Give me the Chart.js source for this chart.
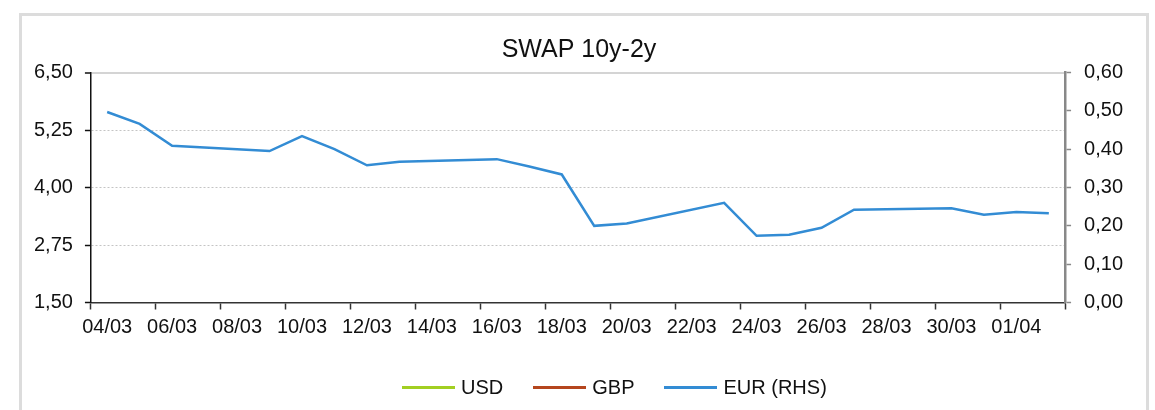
<!DOCTYPE html>
<html>
<head>
<meta charset="utf-8">
<script src="https://cdn.jsdelivr.net/npm/chart.js@4/dist/chart.umd.min.js"></script>
<style>
	body { margin: 0; background: #fff; font-family: 'Liberation Sans', Arial, sans-serif; }
	#wrap { position: relative; width: 1155px; height: 410px; overflow: hidden; }
	#frame { position: absolute; left: 19px; top: 13px; width: 1124px; height: 430px; border: 3px solid #dcdcdc; }
	#chart { position: absolute; left: 0; top: 0; }
	#legend { position: absolute; left: 402px; top: 376px; display: flex; align-items: center; font-size: 20px; color: #111; }
	.item { display: flex; align-items: center; margin-right: 30px; }
	.swatch { width: 53px; height: 3px; margin-right: 6px; }
</style>
</head>
<body>
<div id="wrap">
	<div id="frame"></div>
	<canvas id="chart" width="1155" height="410"></canvas>
	<div id="legend"></div>
</div>
<script>
var days = ['04/03','05/03','06/03','07/03','08/03','09/03','10/03','11/03','12/03','13/03',
	'14/03','15/03','16/03','17/03','18/03','19/03','20/03','21/03','22/03','23/03',
	'24/03','25/03','26/03','27/03','28/03','29/03','30/03','31/03','01/04','02/04'];
// USD and GBP sit below the left axis range, nothing of them shows
var usd = [];
var gbp = [];
var eur = [0.497, 0.466, 0.409, null, null, 0.395, 0.434, 0.400, 0.358, 0.367,
	null, null, 0.374, 0.355, 0.334, 0.200, 0.206, null, null, 0.260,
	0.174, 0.177, 0.195, 0.242, null, null, 0.246, 0.229, 0.236, 0.233];
var names = ['USD', 'GBP', 'EUR (RHS)'];
var colors = ['#a2cf22', '#b5461e', '#338cd4'];
var leftTicks = [1.5, 6.5, 1.25];
var rightTicks = [0, 0.6, 0.1];

var font = "'Liberation Sans', Arial, sans-serif";
Chart.defaults.font.family = font;
Chart.defaults.color = '#111';

function comma(v){
	return Number(v).toFixed(2).replace('.', ',');
}

var ctx = document.getElementById('chart');
var chart = new Chart(ctx, {
	type: 'line',
	data: {
		labels: days,
		datasets: [
			{ label: names[0], data: usd, borderColor: colors[0], backgroundColor: colors[0], borderWidth: 2.5, pointRadius: 0, yAxisID: 'y' },
			{ label: names[1], data: gbp, borderColor: colors[1], backgroundColor: colors[1], borderWidth: 2.5, pointRadius: 0, yAxisID: 'y' },
			{ label: names[2], data: eur, borderColor: colors[2], backgroundColor: colors[2], borderWidth: 2.5, pointRadius: 0, yAxisID: 'y1', spanGaps: true, tension: 0 }
		]
	},
	options: {
		responsive: false,
		animation: false,
		layout: { padding: { left: 22, right: 19, top: 0, bottom: 64.5 } },
		plugins: {
			legend: { display: false },
			tooltip: { enabled: false },
			title: {
				display: true,
				text: 'SWAP 10y-2y',
				color: '#111',
				font: { size: 25, weight: 'normal' },
				padding: { top: 35, bottom: 7.5 }
			}
		},
		scales: {
			x: {
				offset: true,
				grid: {
					offset: true,
					drawOnChartArea: false,
					tickLength: 7,
					tickWidth: 1.5,
					tickColor: function(c){ return (c.index === undefined || c.index % 2 === 0) ? '#333' : 'rgba(0,0,0,0)'; }
				},
				border: { color: '#333', width: 1.5 },
				ticks: {
					autoSkip: false,
					minRotation: 0,
					maxRotation: 0,
					padding: 6,
					color: '#111',
					font: { size: 20 },
					callback: function(v, i){ return i % 2 === 0 ? days[i] : ''; }
				}
			},
			y: {
				position: 'left',
				min: leftTicks[0],
				max: leftTicks[1],
				grid: {
					tickLength: 6,
					tickColor: '#111',
					tickWidth: 1.5,
					color: function(c){
						if (c.index === 0) return 'rgba(0,0,0,0)';
						return c.index === 4 ? '#d4d4d4' : '#c4c4c4';
					},
					lineWidth: function(c){ return c.index === 4 ? 2 : 1; }
				},
				border: {
					color: '#111',
					width: 1.5,
					dash: function(c){ return (c.index === 4 || c.index === undefined) ? [] : [2, 2]; }
				},
				ticks: {
					stepSize: leftTicks[2],
					padding: 12,
					color: '#111',
					font: { size: 20 },
					callback: function(v){ return comma(v); }
				}
			},
			y1: {
				position: 'right',
				min: rightTicks[0],
				max: rightTicks[1],
				grid: { drawOnChartArea: false, tickLength: 6, tickColor: '#888', tickWidth: 1.5 },
				border: { color: '#888', width: 2.5 },
				ticks: {
					stepSize: rightTicks[2],
					padding: 13,
					color: '#111',
					font: { size: 20 },
					callback: function(v){ return comma(v); }
				}
			}
		}
	}
});

// legend under the chart, built from the same names and colours
var legend = document.getElementById('legend');
for (var i = 0; i < names.length; i++) {
	var item = document.createElement('div');
	item.className = 'item';
	item.innerHTML = '<span class="swatch" style="background:' + colors[i] + '"></span><span>' + names[i] + '</span>';
	legend.appendChild(item);
}
</script>
</body>
</html>
